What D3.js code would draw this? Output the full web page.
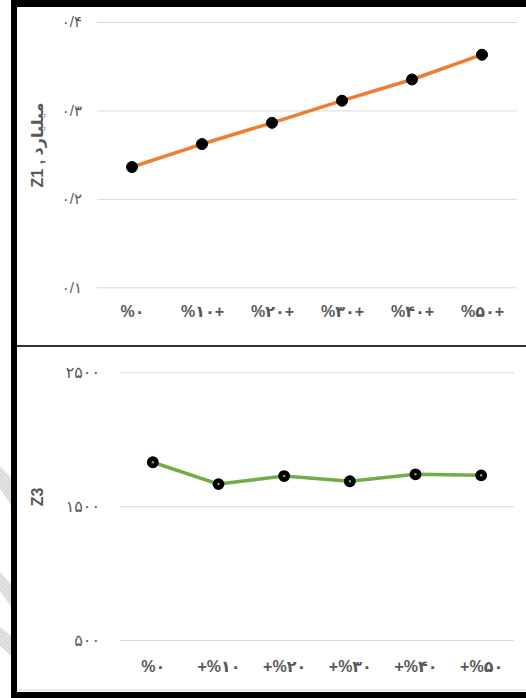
<!DOCTYPE html>
<html>
<head>
<meta charset="utf-8">
<script src="https://cdn.jsdelivr.net/npm/d3@7"></script>
<style>
  html, body { margin: 0; padding: 0; background: #fff; }
  svg { display: block; }
  text { font-family: "Liberation Sans", "DejaVu Sans", sans-serif; }
</style>
</head>
<body>
<svg id="chart" width="526" height="698"></svg>
<script>
// Scenario categories (x axes)
const cats1 = ["%۰", "%۱۰+", "%۲۰+", "%۳۰+", "%۴۰+", "%۵۰+"];
const cats2 = ["%۰", "+%۱۰", "+%۲۰", "+%۳۰", "+%۴۰", "+%۵۰"];

// Series values
const z1Values = [0.236, 0.262, 0.286, 0.311, 0.335, 0.363];
const z3Values = [1828, 1665, 1725, 1686, 1738, 1730];

// Y tick values and their labels
const y1Ticks = [0.1, 0.2, 0.3, 0.4];
const y1Labels = ["۰/۱", "۰/۲", "۰/۳", "۰/۴"];
const y2Ticks = [500, 1500, 2500];
const y2Labels = ["۵۰۰", "۱۵۰۰", "۲۵۰۰"];

const svg = d3.select("#chart");
const txt = "#595959";
const grid = "#d9d9d9";

// faint watermark stripes on the left margin
const stripes = [
  [[0,466],[11,478],[11,505],[0,489]],
  [[0,572],[11,584],[11,607],[0,591]],
  [[0,627],[11,636],[11,656],[0,646]]
];
const defs = svg.append("defs");
const pat = defs.append("pattern").attr("id", "hatch").attr("patternUnits", "userSpaceOnUse")
  .attr("width", 3).attr("height", 3).attr("patternTransform", "rotate(45)");
pat.append("rect").attr("width", 3).attr("height", 3).attr("fill", "#e4e4e4");
pat.append("line").attr("x1", 0).attr("y1", 0).attr("x2", 0).attr("y2", 3)
  .attr("stroke", "#c8c8c8").attr("stroke-width", 1.2);
svg.selectAll("polygon.wm").data(stripes).join("polygon").attr("class", "wm")
  .attr("points", d => d.map(p => p.join(",")).join(" "))
  .attr("fill", "url(#hatch)");

function drawPanel(opt) {
  const g = svg.append("g");
  const x = d3.scalePoint().domain(opt.cats).range([opt.left, opt.right]).padding(0.5);
  const y = d3.scaleLinear().domain(opt.domain).range(opt.yRange);

  // horizontal gridlines + y tick labels
  const yAxis = d3.axisLeft(y).tickValues(opt.ticks)
    .tickSize(-(opt.right - opt.left)).tickPadding(opt.tickPad)
    .tickFormat((d, i) => opt.labels[i]);
  const ya = g.append("g").attr("transform", `translate(${opt.left},0)`).call(yAxis);
  ya.select(".domain").remove();
  ya.selectAll("line").attr("stroke", grid).attr("stroke-width", 1);
  ya.selectAll("text").attr("fill", txt).attr("font-size", opt.tickSize)
    .attr("font-family", "'DejaVu Sans', sans-serif")
    .style("direction", "ltr").style("unicode-bidi", "bidi-override");

  // category labels
  const xAxis = d3.axisBottom(x).tickSize(0).tickPadding(0);
  const xa = g.append("g").attr("transform", `translate(0,${opt.labelY})`).call(xAxis);
  xa.select(".domain").remove();
  xa.selectAll("text").attr("fill", txt).attr("font-size", 16).attr("font-weight", "bold")
    .attr("dy", "0.35em").attr("y", 0)
    .style("direction", "ltr").style("unicode-bidi", "bidi-override");

  // y axis title
  g.append("text").attr("transform", `translate(${opt.titleX},${opt.titleY}) rotate(-90)`)
    .attr("text-anchor", "middle").attr("dy", "0.35em")
    .attr("fill", txt).attr("font-size", opt.titleSize).attr("font-weight", "bold")
    .attr("font-family", "'DejaVu Sans', sans-serif")
    .text(opt.title);

  // series line
  const line = d3.line().x((d, i) => x(opt.cats[i])).y(d => y(d));
  g.append("path").datum(opt.values).attr("d", line)
    .attr("fill", "none").attr("stroke", opt.color).attr("stroke-width", 3.5)
    .attr("stroke-linejoin", "round");

  // markers
  g.selectAll("circle.pt").data(opt.values).join("circle").attr("class", "pt")
    .attr("cx", (d, i) => x(opt.cats[i])).attr("cy", d => y(d))
    .attr("r", opt.markerR).attr("fill", opt.markerFill)
    .attr("stroke", "#000").attr("stroke-width", opt.markerStroke);
}

drawPanel({
  cats: cats1, values: z1Values, ticks: y1Ticks, labels: y1Labels,
  domain: [0.1, 0.4], yRange: [287.3, 22], left: 97, right: 517, tickPad: 15,
  tickSize: 15, labelY: 311, title: "Z1 , میلیارد", titleX: 37, titleY: 145, titleSize: 16,
  color: "#ED7D31", markerR: 5.5, markerFill: "#000", markerStroke: 1
});

drawPanel({
  cats: cats2, values: z3Values, ticks: y2Ticks, labels: y2Labels,
  domain: [500, 2500], yRange: [640, 372.3], left: 120, right: 514, tickPad: 20,
  tickSize: 16, labelY: 666, title: "Z3", titleX: 37, titleY: 497, titleSize: 16,
  color: "#70AD47", markerR: 3.6, markerFill: "#70AD47", markerStroke: 4.6
});

// frame: thick black border on top, left and bottom, divider between panels
svg.append("rect").attr("x", 11).attr("y", 0).attr("width", 515).attr("height", 7).attr("fill", "#000");
svg.append("rect").attr("x", 11).attr("y", 0).attr("width", 6).attr("height", 698).attr("fill", "#000");
svg.append("rect").attr("x", 11).attr("y", 692).attr("width", 515).attr("height", 6).attr("fill", "#000");
svg.append("rect").attr("x", 17).attr("y", 689.5).attr("width", 509).attr("height", 1).attr("fill", "#d9d9d9");
svg.append("rect").attr("x", 17).attr("y", 345).attr("width", 509).attr("height", 2).attr("fill", "#333");
</script>
</body>
</html>
